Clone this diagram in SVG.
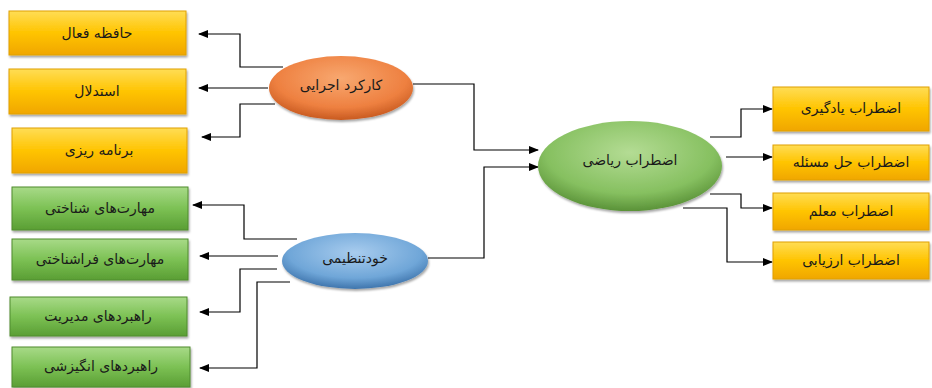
<svg xmlns="http://www.w3.org/2000/svg" width="932" height="388" viewBox="0 0 932 388">
<defs>
<linearGradient id="gy" x1="0" y1="0" x2="0" y2="1">
<stop offset="0" stop-color="#FFDD55"/><stop offset="0.5" stop-color="#FFC400"/><stop offset="1" stop-color="#F0A600"/>
</linearGradient>
<linearGradient id="gg" x1="0" y1="0" x2="0" y2="1">
<stop offset="0" stop-color="#A8DA88"/><stop offset="0.5" stop-color="#7CC154"/><stop offset="1" stop-color="#5A9E34"/>
</linearGradient>
<radialGradient id="eo" cx="0.5" cy="0.35" r="0.65">
<stop offset="0" stop-color="#F8A870"/><stop offset="0.7" stop-color="#EE8040"/><stop offset="1" stop-color="#C85A20"/>
</radialGradient>
<radialGradient id="eb" cx="0.5" cy="0.35" r="0.65">
<stop offset="0" stop-color="#A8CCEE"/><stop offset="0.7" stop-color="#6FA6D8"/><stop offset="1" stop-color="#3E74AC"/>
</radialGradient>
<radialGradient id="eg" cx="0.5" cy="0.35" r="0.65">
<stop offset="0" stop-color="#B4DC94"/><stop offset="0.7" stop-color="#86C060"/><stop offset="1" stop-color="#5A9238"/>
</radialGradient>
<marker id="ah" viewBox="0 0 10 10" refX="9" refY="5" markerWidth="11" markerHeight="10" markerUnits="userSpaceOnUse" orient="auto">
<path d="M0,1 L10,5 L0,9 Z" fill="#000"/>
</marker>
<filter id="sh" x="-10%" y="-10%" width="120%" height="130%">
<feDropShadow dx="1" dy="2" stdDeviation="1.2" flood-color="#000" flood-opacity="0.35"/>
</filter>
</defs>
<style>
.by{fill:url(#gy);stroke:#E0A000;stroke-width:1;filter:url(#sh)}
.bg{fill:url(#gg);stroke:#4E8C2E;stroke-width:1;filter:url(#sh)}
.t{font-family:"DejaVu Sans","Noto Sans",sans-serif;font-size:14px;fill:#1a1a1a;text-anchor:middle;direction:rtl}
.c{fill:none;stroke:#000;stroke-width:1.2;marker-end:url(#ah)}
</style>
<rect width="932" height="388" fill="#fff"/>

<g id="connectors">
<path class="c" d="M283,67 H240 V34 H199"/>
<path class="c" d="M268,88 H199"/>
<path class="c" d="M275,104 H240 V137 H202"/>
<path class="c" d="M413,84 H474 V150 H538"/>
<path class="c" d="M428,258 H484 V167 H538"/>
<path class="c" d="M297,239 H244 V205 H193"/>
<path class="c" d="M278,256 H200"/>
<path class="c" d="M277,269 H240 V312 H200"/>
<path class="c" d="M290,282 H257 V368 H200"/>
<path class="c" d="M710,137 H741 V109 H772"/>
<path class="c" d="M726,157 H772"/>
<path class="c" d="M710,194 H741 V208 H772"/>
<path class="c" d="M683,208 H727 V262 H772"/>
</g>

<g id="n-hafeze"><rect class="by" x="9" y="11" width="177" height="44"/><text class="t" x="97" y="38">حافظه فعال</text></g>
<g id="n-estedlal"><rect class="by" x="9" y="69" width="177" height="45"/><text class="t" x="97" y="96">استدلال</text></g>
<g id="n-barname"><rect class="by" x="12" y="128" width="175" height="45"/><text class="t" x="99" y="155">برنامه ریزی</text></g>

<g id="n-shenakhti"><rect class="bg" x="12" y="187" width="176" height="43"/><text class="t" x="100" y="213">مهارت‌های شناختی</text></g>
<g id="n-farashenakhti"><rect class="bg" x="12" y="239" width="176" height="41"/><text class="t" x="100" y="264">مهارت‌های فراشناختی</text></g>
<g id="n-modiriat"><rect class="bg" x="10" y="297" width="177" height="39"/><text class="t" x="98" y="321">راهبردهای مدیریت</text></g>
<g id="n-angizeshi"><rect class="bg" x="12" y="347" width="178" height="40"/><text class="t" x="101" y="371">راهبردهای انگیزشی</text></g>

<g id="n-karkard"><ellipse cx="341" cy="88" rx="72" ry="32" fill="url(#eo)" filter="url(#sh)"/><text class="t" x="341" y="90">کارکرد اجرایی</text></g>
<g id="n-khodtanzimi"><ellipse cx="355" cy="261" rx="73" ry="28" fill="url(#eb)" filter="url(#sh)"/><text class="t" x="355" y="263">خودتنظیمی</text></g>
<g id="n-riazi"><ellipse cx="630" cy="166" rx="92" ry="45" fill="url(#eg)" filter="url(#sh)"/><text class="t" x="630" y="165">اضطراب ریاضی</text></g>

<g id="n-yadgiri"><rect class="by" x="773" y="87" width="156" height="44"/><text class="t" x="851" y="113">اضطراب یادگیری</text></g>
<g id="n-hal"><rect class="by" x="773" y="145" width="156" height="35"/><text class="t" x="851" y="167">اضطراب حل مسئله</text></g>
<g id="n-moalem"><rect class="by" x="773" y="193" width="156" height="37"/><text class="t" x="851" y="216">اضطراب معلم</text></g>
<g id="n-arzyabi"><rect class="by" x="773" y="242" width="156" height="37"/><text class="t" x="851" y="265">اضطراب ارزیابی</text></g>
</svg>
